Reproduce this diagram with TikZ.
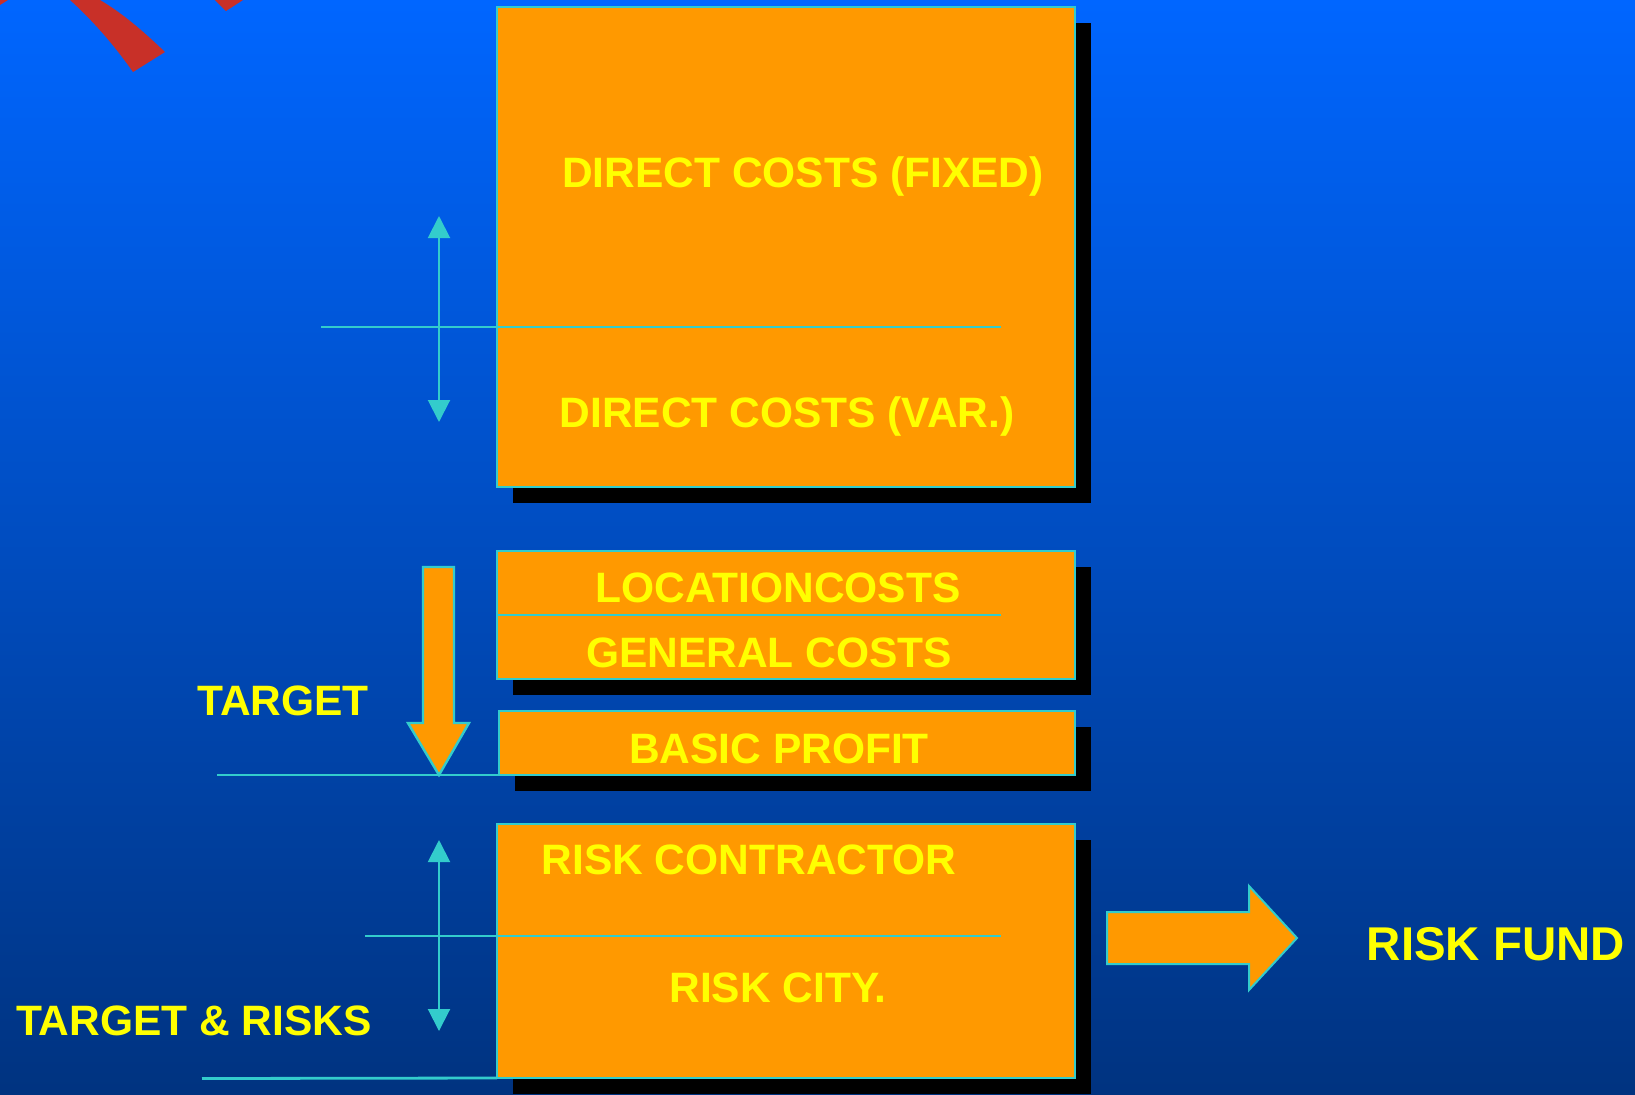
\documentclass[tikz,border=0pt]{standalone}
\usepackage{fontspec}
\setmainfont{Liberation Sans}
\usetikzlibrary{arrows.meta,shadows}
\definecolor{bgtop}{RGB}{0,102,255}
\definecolor{bgbot}{RGB}{0,51,128}
\definecolor{boxorange}{RGB}{255,153,0}
\definecolor{edgecyan}{RGB}{51,204,204}
\definecolor{txtyellow}{RGB}{255,255,0}
\definecolor{arcred}{RGB}{200,48,40}
\begin{document}
\begin{tikzpicture}[x=0.5pt,y=-0.5pt,
  costbox/.style={draw=edgecyan,fill=boxorange,line width=1.4pt,inner sep=0pt,outer sep=0pt,
    drop shadow={shadow xshift=8pt,shadow yshift=-8pt,opacity=1,fill=black}},
  lbltext/.style={text=txtyellow,font=\bfseries\fontsize{21.25}{24}\selectfont,
    inner sep=0pt,text height=15.2pt,text depth=0pt},
  bigtext/.style={lbltext,font=\bfseries\fontsize{23.7}{26}\selectfont,text height=17pt},
  divider/.style={draw=edgecyan,line width=1.4pt},
  dblarrow/.style={draw=edgecyan,fill=edgecyan,line width=1pt,
    {Triangle[length=11pt,width=11pt]}-{Triangle[length=11pt,width=11pt]}},
  fatarrow/.style={draw=edgecyan,fill=boxorange,line width=1.2pt,line join=miter}]
\useasboundingbox (0,0) rectangle (1635,1094);
\clip (0,0) rectangle (1635,1094);
% background
\shade[top color=bgtop,bottom color=bgbot] (0,0) rectangle (1635,1094);
% red arcs (logo fragment)
\fill[arcred] (70,0) .. controls (90,18) and (112,42) .. (133,72) -- (165,52)
  .. controls (142,30) and (122,13) .. (100,0) -- cycle;
\fill[arcred] (0,0) -- (8,0) -- (0,5) -- cycle;
\fill[arcred] (215,0) -- (243,0) -- (226,11) -- cycle;
% boxes
\node[costbox,minimum width=289pt,minimum height=240pt] (fixedbox) at (786,247) {};
\node[costbox,minimum width=289pt,minimum height=64pt] (locbox) at (786,615) {};
\node[costbox,minimum width=288pt,minimum height=32pt] (profitbox) at (787,743) {};
\node[costbox,minimum width=289pt,minimum height=127pt] (riskbox) at (786,951) {};
% dividers and baselines
\coordinate (d1l) at (321,327);
\coordinate (d1r) at (1001,327);
\coordinate (d2r) at (1001,615);
\coordinate (d3l) at (365,936);
\coordinate (d3r) at (1001,936);
\coordinate (tl) at (217,775);
\coordinate (bl) at (202,1078.5);
\draw[divider] (d1l) -- (d1r);
\draw[divider] (locbox.west) -- (d2r);
\draw[divider] (d3l) -- (d3r);
\draw[divider] (tl) -- (profitbox.south west);
\draw[divider] (bl) -- (riskbox.south west);
% double arrows
\coordinate (a1t) at (439,216);
\coordinate (a1b) at (439,422);
\coordinate (a2t) at (439,840);
\coordinate (a2b) at (439,1031);
\draw[dblarrow] (a1t) -- (a1b);
\draw[dblarrow] (a2t) -- (a2b);
% target arrow (down)
\draw[fatarrow] (423,567) -- (454,567) -- (454,723) -- (469,723) -- (439,775)
  -- (408,723) -- (423,723) -- cycle;
% risk fund arrow (right)
\draw[fatarrow,line width=1pt] (1107,912) -- (1249,912) -- (1249,886) -- (1297,938)
  -- (1249,990) -- (1249,964) -- (1107,964) -- cycle;
% texts
\node[lbltext] (tfixed) at (803,172) {DIRECT COSTS (FIXED)};
\node[lbltext] (tvar) at (787,412) {DIRECT COSTS (VAR.)};
\node[lbltext] (tloc) at (778,587) {LOCATIONCOSTS};
\node[lbltext] (tgen) at (769,652) {GENERAL COSTS};
\node[lbltext] (tprofit) at (779,748) {BASIC PROFIT};
\node[lbltext] (tcontr) at (749,859) {RISK CONTRACTOR};
\node[lbltext] (tcity) at (778,987) {RISK CITY.};
\node[lbltext] (ttarget) at (283,700) {TARGET};
\node[lbltext] (ttr) at (194,1020) {TARGET \& RISKS};
\node[bigtext] (tfund) at (1496,943) {RISK FUND};
\end{tikzpicture}
\end{document}
